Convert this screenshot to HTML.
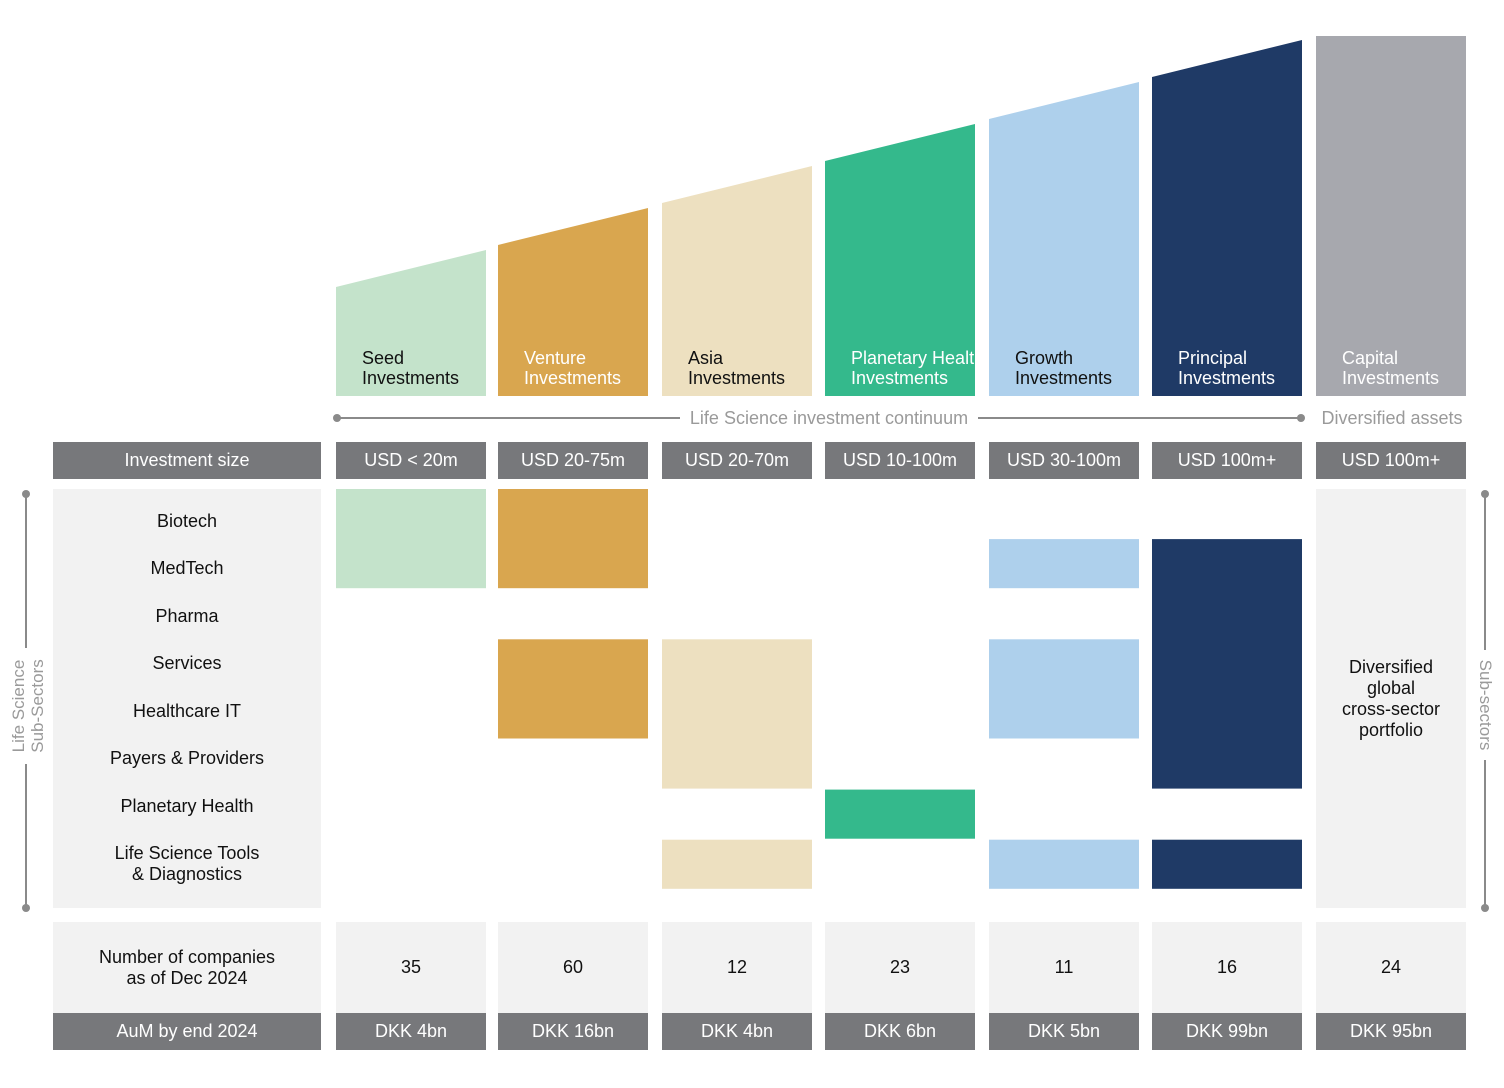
<!DOCTYPE html>
<html><head><meta charset="utf-8">
<style>
body{margin:0;width:1504px;height:1088px;background:#fff;font-family:"Liberation Sans",sans-serif;overflow:hidden;position:relative}
.a{position:absolute;box-sizing:border-box}
.dk{background:#77787b;color:#fff;font-size:18px;display:flex;align-items:center;justify-content:center}
.lt{background:#f2f2f2;color:#111;font-size:18px;display:flex;align-items:center;justify-content:center;text-align:center;line-height:21px}
.lbl{font-size:18px;line-height:20px}
</style></head><body>
<svg class="a" style="left:0;top:0" width="1504" height="1088">
<g id="tops"></g><g id="blocks"></g>
<line x1="337" y1="418" x2="680" y2="418" stroke="#8a8a8a" stroke-width="2"/>
<line x1="978" y1="418" x2="1301" y2="418" stroke="#8a8a8a" stroke-width="2"/>
<circle cx="337" cy="418" r="4" fill="#8a8a8a"/><circle cx="1301" cy="418" r="4" fill="#8a8a8a"/>
<text x="829" y="424" font-size="18" fill="#9a9a9a" text-anchor="middle" font-family="Liberation Sans">Life Science investment continuum</text>
<text x="1392" y="424" font-size="18" fill="#9a9a9a" text-anchor="middle" font-family="Liberation Sans">Diversified assets</text>
<line x1="26" y1="494" x2="26" y2="648" stroke="#8a8a8a" stroke-width="2"/><line x1="26" y1="764" x2="26" y2="908" stroke="#8a8a8a" stroke-width="2"/>
<circle cx="26" cy="494" r="4" fill="#8a8a8a"/><circle cx="26" cy="908" r="4" fill="#8a8a8a"/>
<text transform="translate(24,706) rotate(-90)" font-size="17" fill="#9a9a9a" text-anchor="middle" font-family="Liberation Sans"><tspan x="0" y="0">Life Science</tspan><tspan x="0" y="19">Sub-Sectors</tspan></text>
<line x1="1485" y1="494" x2="1485" y2="650" stroke="#8a8a8a" stroke-width="2"/><line x1="1485" y1="760" x2="1485" y2="908" stroke="#8a8a8a" stroke-width="2"/>
<circle cx="1485" cy="494" r="4" fill="#8a8a8a"/><circle cx="1485" cy="908" r="4" fill="#8a8a8a"/>
<text transform="translate(1480,705) rotate(90)" font-size="17" fill="#9a9a9a" text-anchor="middle" font-family="Liberation Sans">Sub-sectors</text>
</svg>
<div id="cells"></div>
<script>
const funds=["Seed","Venture","Asia","Planetary Health","Growth","Principal","Capital"];
const sizes=["USD < 20m","USD 20-75m","USD 20-70m","USD 10-100m","USD 30-100m","USD 100m+","USD 100m+"];
const companies=["35","60","12","23","11","16","24"];
const aum=["DKK 4bn","DKK 16bn","DKK 4bn","DKK 6bn","DKK 5bn","DKK 99bn","DKK 95bn"];
const sectors=["Biotech","MedTech","Pharma","Services","Healthcare IT","Payers & Providers","Planetary Health","Life Science Tools<br>& Diagnostics"];
// coverage ranges [startRow,endRow) per fund (Capital = diversified)
const coverage=[[[0,2]],[[0,2],[3,5]],[[3,6],[7,8]],[[6,7]],[[1,2],[3,5],[7,8]],[[1,6],[7,8]],[]];
const colors=["#c4e3cb","#d9a64f","#ede0c0","#34b98c","#aed0ec","#1f3a66","#a7a8ae"];
const txt=["#111","#fff","#111","#fff","#111","#fff","#fff"];
const colX=[336,498,662,825,989,1152,1316],colW=150;
const topL=[287,245,203,161,119,77,36],topR=[250,208,166,124,82,40,36];
const rowY=r=>489+r*50.1;
const NS="http://www.w3.org/2000/svg";
const tops=document.getElementById('tops'),blocks=document.getElementById('blocks'),cells=document.getElementById('cells');
funds.forEach((f,i)=>{
  const x=colX[i];
  const p=document.createElementNS(NS,'polygon');
  p.setAttribute('points',`${x},${topL[i]} ${x+colW},${topR[i]} ${x+colW},396 ${x},396`);
  p.setAttribute('fill',colors[i]);
  
  
  tops.appendChild(p);
  const l=document.createElement('div');l.className='a lbl';
  l.style.cssText=`left:${x+26}px;top:348px;color:${txt[i]}`;
  l.innerHTML=f+'<br>Investments';
  
  
  cells.appendChild(l);
  coverage[i].forEach(c=>{
    const r=document.createElementNS(NS,'rect');
    r.setAttribute('x',x);r.setAttribute('y',rowY(c[0]));
    r.setAttribute('width',colW);r.setAttribute('height',rowY(c[1])-rowY(c[0])-1);
    r.setAttribute('fill',colors[i]);
    
    
    blocks.appendChild(r);
  });
  const s=document.createElement('div');s.className='a dk';
  s.style.cssText=`left:${x}px;top:442px;width:${colW}px;height:37px`;s.textContent=sizes[i];
  
  
  cells.appendChild(s);
  const c=document.createElement('div');c.className='a lt';
  c.style.cssText=`left:${x}px;top:922px;width:${colW}px;height:91px`;c.textContent=companies[i];
  
  
  cells.appendChild(c);
  const a=document.createElement('div');a.className='a dk';
  a.style.cssText=`left:${x}px;top:1013px;width:${colW}px;height:37px`;a.textContent=aum[i];
  
  
  cells.appendChild(a);
});
const add=(cls,css,html,name)=>{const d=document.createElement('div');d.className='a '+cls;d.style.cssText=css;d.innerHTML=html;


cells.appendChild(d);return d;};
add('dk','left:53px;top:442px;width:268px;height:37px','Investment size','investment-size-header');
add('lt','left:53px;top:489px;width:268px;height:419px','','sector-panel');
add('lt','left:1316px;top:489px;width:150px;height:419px','Diversified<br>global<br>cross-sector<br>portfolio','capital-portfolio');
add('lt','left:53px;top:922px;width:268px;height:91px','Number of companies<br>as of Dec 2024','companies-header');
add('dk','left:53px;top:1013px;width:268px;height:37px','AuM by end 2024','aum-header');
const ty=[521,568,616,663,711,758,806,864];
sectors.forEach((s,i)=>{add('lt',`left:53px;top:${ty[i]-(i==7?22:11)}px;width:268px;height:${i==7?44:22}px;background:transparent`,s,'sector-label');});
</script>
</body></html>
